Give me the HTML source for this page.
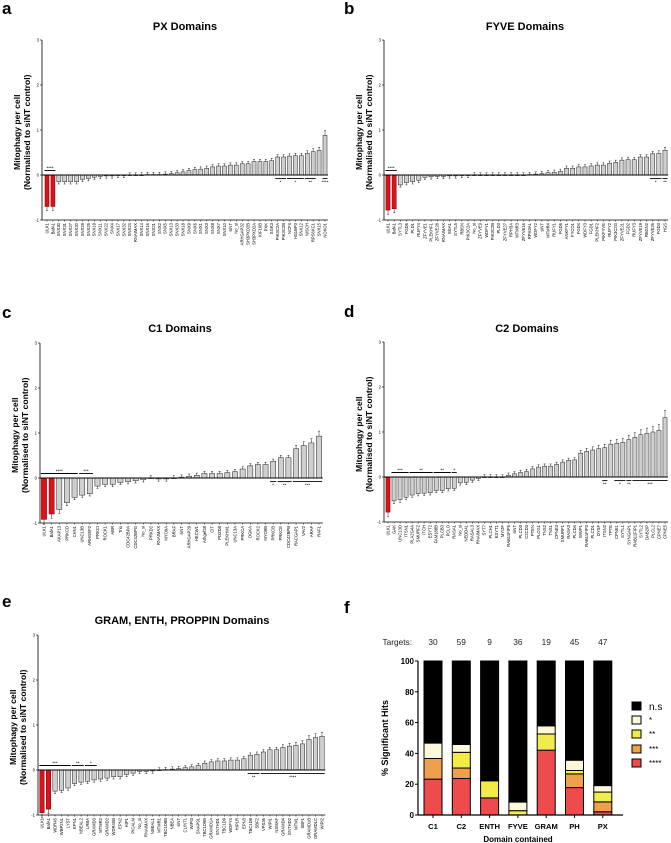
<!DOCTYPE html>
<html><head><meta charset="utf-8">
<style>
html,body{margin:0;padding:0;background:#fff;}
svg{display:block;font-family:"Liberation Sans",Arial,sans-serif;}
</style></head>
<body>
<svg id="fig" width="671" height="843" viewBox="0 0 671 843"></svg>
<script>
// ---------- Panel a (PX) ----------
const pxLabels = ["ULK1","BafA1","SNX30","SNX31","SNX27","SNX20","SNX29","SNX25","SNX19","SNX11","SNX22","SNX4","SNX17","SNX32","SNX24","RNAIMAX","SNX14","SNX16","SNX21","SNX2","SNX5","SNX13","SNX33","SNX18","SNX9","SNX6","SNX1","SNX3","SNX8","SNX7","SNX10","siNT","No_si","ARHGAP32","SH3PXD2B","SH3PXD2A","KIF16B","PXK","SGK3","PIK3C2A","PIK3C2B","NCF4","HS1BP3","SNX12","NISCH","RPS6KC1","SNX15","NOXO1"];
const pxValues = [-0.7,-0.7,-0.15,-0.15,-0.15,-0.15,-0.1,-0.08,-0.05,-0.03,-0.02,-0.02,-0.01,-0.01,0,0,0,0.01,0.01,0.01,0.02,0.03,0.05,0.07,0.1,0.12,0.13,0.15,0.18,0.2,0.2,0.22,0.22,0.25,0.25,0.3,0.3,0.3,0.32,0.4,0.4,0.42,0.43,0.43,0.48,0.52,0.55,0.88];
const pxSig = [[0,1,"****",1],[39,40,"*",-1],[41,43,"*",-1],[44,45,"**",-1],[47,47,"****",-1]];
// ---------- Panel b (FYVE) ----------
const fyveLabels = ["ULK1","BafA1","SYTL3","FGD6","PLD1","RUFY4","ZFYVE1","PLEKHF1","ZFYVE28","RNAIMAX","EEA1","SYTL5","RBSN","PIK3C2A","No_si","ZFYVE9","WDFY1","PIK3C2B","PLD3","ZFYVE27","RPH3A","MTMR3","ZFYVE16","RPH3AL","WDFY2","siNT","MTMR4","RUFY1","FGD5","ANKFY1","FYCO1","FGD4","WDFY3","FGD1","PLEKHF2","PIKFYVE","RUFY2","PIK3C2G","ZFYVE21","FGD2","RUFY3","ZFYVE19","RBSN2","ZFYVE26","FGD3","HGS"];
const fyveValues = [-0.78,-0.75,-0.22,-0.17,-0.15,-0.12,-0.05,-0.04,-0.03,-0.03,-0.02,-0.02,-0.01,-0.01,0,0,0,0,0,0,0,0,0,0.01,0.02,0.03,0.05,0.06,0.08,0.15,0.15,0.18,0.18,0.2,0.22,0.22,0.26,0.28,0.33,0.34,0.34,0.4,0.4,0.47,0.48,0.55];
const fyveSig = [[0,1,"****",1],[43,44,"*",-1],[45,45,"**",-1]];
// ---------- Panel c (C1) ----------
const c1Labels = ["ULK1","BafA1","AKAP13","PRKCD","CHN1","UNC13B","ARHGEF2","PRKCI","ROCK1","ABR","Trio","CDC42BPA","CDC42BPG","No_si","PRKD2","RNAIMAX","MYO9A","BRAF","siNT","ARHGAP29","HECW1","Arhgef28","CIT","PDZD8","PLEKHM1","UNC13A","PRKCA","DGKA","ROCK2","MYO9B","PRKCB","PRKCE","CDC42BPB","RACGAP1","VAV2","ARAF","RAF1"];
const c1Values = [-0.92,-0.8,-0.7,-0.55,-0.43,-0.38,-0.35,-0.18,-0.14,-0.14,-0.1,-0.08,-0.06,-0.04,0,-0.02,-0.02,0,0.02,0.04,0.06,0.1,0.1,0.1,0.12,0.14,0.2,0.27,0.3,0.3,0.37,0.45,0.45,0.65,0.72,0.78,0.93];
const c1Sig = [[0,4,"****",1],[5,6,"***",1],[30,30,"*",-1],[31,32,"**",-1],[33,36,"***",-1]];
// ---------- Panel d (C2) ----------
const c2Labels = ["ULK1","GAK","UNC13D","ITSN1","PLA2G4A","SMURF2","ITCH","ESYT2","FAM188B","PLCB3","PCLO","RASA1","No_si","NEDD4L","RASAL3","RNAIMAX","SYT7","PLCH1","ESYT1","MYOF","RAB11FIP5","siNT","PLCD3","C2CD3","PTEN","PLCG1","TNS2","TNS1","CPNE3","SMURF1","RASA3","PLCD4","WWP1","RAB11FIP3","PLCD1","DYSF","ITSN2","TPTE","CPNE1","SYTL1","SYNGAP1","RAB11FIP1","SYTL2","DAB2IP","PLCL2","CPNE7","CPNE5"];
const c2Values = [-0.78,-0.53,-0.5,-0.45,-0.4,-0.37,-0.36,-0.35,-0.3,-0.3,-0.26,-0.25,-0.13,-0.12,-0.07,-0.03,0,0,0,0,0.04,0.07,0.1,0.12,0.18,0.22,0.24,0.24,0.28,0.33,0.37,0.38,0.53,0.57,0.6,0.63,0.65,0.73,0.75,0.77,0.83,0.88,0.94,0.97,1.0,1.04,1.32];
const c2Sig = [[1,3,"***",1],[4,7,"**",1],[8,10,"**",1],[11,11,"*",1],[36,36,"**",-1],[38,39,"*",-1],[40,40,"**",-1],[41,46,"***",-1]];
// ---------- Panel e (GRAM/ENTH/PROPPIN) ----------
const gramLabels = ["ULK1","BafA1","WDR45","WBP2NL","LYST","EPN1","NBEAL2","LRBA","GRAMD3","MTMR2","GRAMD2","WDR45B","EPN2","HIP1","PICALM","No_si","RNAIMAX","NBEAL1","MTMR1","TBC1D8B","NBEA","siNT","CLINT1","WIPI3","SNAP91","TBC1D9B","GRAMD1A","ENTHD1","TBC1D9","WDFY4","HIP1R","EPN3","TBC1D8","SBF2","VPS36","WIPI1","NSMAF","GRAMD4","ENTHD2","MTM1","SBF1","GRAMD1B","GRAMD1C","WIPI2"];
const gramValues = [-0.95,-0.87,-0.47,-0.45,-0.4,-0.3,-0.27,-0.25,-0.22,-0.2,-0.18,-0.15,-0.15,-0.1,-0.07,-0.03,-0.03,-0.02,0,0.01,0.02,0.03,0.05,0.07,0.1,0.15,0.18,0.2,0.2,0.22,0.22,0.25,0.33,0.35,0.4,0.45,0.45,0.5,0.53,0.55,0.58,0.68,0.72,0.75];
const gramSig = [[0,4,"***",1],[5,6,"**",1],[7,8,"*",1],[32,33,"**",-1],[34,43,"****",-1]];
const yTicks = [3,2,1,0,-1];
// ---------- Panel f ----------
const fCategories = ["C1","C2","ENTH","FYVE","GRAM","PH","PX"];
const fTargets = [30,59,9,36,19,45,47];
const fStar4 = [23.3,23.7,11.1,0,42.1,17.8,2.1];
const fStar3 = [13.4,6.8,0,0,0,8.9,6.4];
const fStar2 = [0,10.2,11.1,2.8,10.5,2.2,6.4];
const fStar1 = [10.0,5.1,0,5.6,5.3,6.7,4.2];
const fTicks = [0,20,40,60,80,100];

const NS="http://www.w3.org/2000/svg";
const svg=document.getElementById('fig');
function mk(tag,attrs,parent,text){const e=document.createElementNS(NS,tag);for(const k in attrs)e.setAttribute(k,attrs[k]);if(text!==undefined)e.textContent=text;(parent||svg).appendChild(e);return e;}

function panel(p){
  const g=mk('g',{});
  
  
  const yS=v=>p.y0-v*45;
  const n=p.values.length;
  const step=(p.xEnd-p.xStart)/(n-1);
  const xS=i=>p.xStart+i*step;
  const bw=step*0.68;
  // letter and title
  const l=mk('text',{x:p.letterX,y:p.letterY,'font-size':17,'font-weight':'bold'},g,p.letter);
  
  
  const t=mk('text',{x:p.titleX,y:p.titleY,'font-size':11,'font-weight':'bold','text-anchor':'middle'},g,p.title);
  
  
  // y axis title
  const yt=mk('text',{transform:`translate(${p.ax-22},${yS(0.95)}) rotate(-90)`,'font-size':8.6,'font-weight':'bold','text-anchor':'middle'},g);
  
  
  mk('tspan',{x:0,dy:0},yt,'Mitophagy per cell');
  mk('tspan',{x:0,dy:10},yt,'(Normalised to siNT control)');
  // y axis
  const ya=mk('line',{x1:p.ax,x2:p.ax,y1:yS(3),y2:yS(-1),stroke:'#000','stroke-width':0.8},g);
  
  
  yTicks.forEach(v=>{
    mk('line',{x1:p.ax-2,x2:p.ax,y1:yS(v),y2:yS(v),stroke:'#000','stroke-width':0.6},g);
    const tl=mk('text',{x:p.ax-3,y:yS(v)+1.5,'font-size':4.2,'text-anchor':'end'},g,String(v));
    
    
  });
  // x axis at -1
  const xa=mk('line',{x1:p.ax,x2:p.xEnd+step/2,y1:yS(-1),y2:yS(-1),stroke:'#000','stroke-width':0.8},g);
  
  
  // bars
  p.values.forEach((v,i)=>{
    const x=xS(i);
    const red=i<p.red;
    const r=mk('rect',{x:x-bw/2,y:Math.min(yS(v),yS(0)),width:bw,height:Math.max(0.6,Math.abs(yS(v)-yS(0))),fill:red?'#d9121b':'#cfcfcf',stroke:red?'#7a0000':'#222','stroke-width':0.5},g);
    
    
    // error bar
    const e=Math.max(0.05,Math.abs(v)*0.12);
    const ey=v>=0?yS(v+e):yS(v-e);
    mk('line',{x1:x,x2:x,y1:yS(v),y2:ey,stroke:'#222','stroke-width':0.5},g);
    mk('line',{x1:x-1,x2:x+1,y1:ey,y2:ey,stroke:'#222','stroke-width':0.5},g);
    // tick + label
    mk('line',{x1:x,x2:x,y1:yS(-1),y2:yS(-1)+1.5,stroke:'#000','stroke-width':0.5},g);
    const lb=mk('text',{transform:`translate(${x+1.4},${yS(-1)+3}) rotate(-90)`,'font-size':4.2,'text-anchor':'end'},g,p.labels[i]);
    
    
  });
  // zero line
  const z=mk('line',{x1:p.ax,x2:p.xEnd+step/2,y1:yS(0),y2:yS(0),stroke:'#000','stroke-width':1},g);
  
  
  // significance
  p.sig.forEach(s=>{
    const x1=xS(s[0])-bw/2-0.5,x2=xS(s[1])+bw/2+0.5;
    const yy=s[3]>0?yS(0.1):yS(-0.08);
    const sl=mk('line',{x1:x1,x2:x2,y1:yy,y2:yy,stroke:'#000','stroke-width':0.9},g);
    
    
    mk('text',{x:(x1+x2)/2,y:s[3]>0?yy-1:yy+5,'font-size':4.5,'text-anchor':'middle'},g,s[2]);
  });
}

panel({name:'panel-a-px',letter:'a',letterX:2,letterY:14,title:'PX Domains',titleX:185,titleY:30,ax:42,y0:175,xStart:47,xEnd:325,values:pxValues,labels:pxLabels,sig:pxSig,red:2});
panel({name:'panel-b-fyve',letter:'b',letterX:344,letterY:14,title:'FYVE Domains',titleX:525,titleY:30,ax:384,y0:175,xStart:388,xEnd:665,values:fyveValues,labels:fyveLabels,sig:fyveSig,red:2});
panel({name:'panel-c-c1',letter:'c',letterX:2,letterY:318,title:'C1 Domains',titleX:180,titleY:332,ax:40,y0:478,xStart:44,xEnd:319,values:c1Values,labels:c1Labels,sig:c1Sig,red:2});
panel({name:'panel-d-c2',letter:'d',letterX:344,letterY:317,title:'C2 Domains',titleX:527,titleY:332,ax:384,y0:477,xStart:388,xEnd:665,values:c2Values,labels:c2Labels,sig:c2Sig,red:1});
panel({name:'panel-e-gram',letter:'e',letterX:2,letterY:607,title:'GRAM, ENTH, PROPPIN Domains',titleX:182,titleY:624,ax:38,y0:770,xStart:42,xEnd:322,values:gramValues,labels:gramLabels,sig:gramSig,red:2});

// ---------- Panel f draw ----------
(function(){
  const g=mk('g',{});
  
  
  const ax=418,y0=815,yTop=661,cx0=433,dx=28.3,bw=18;
  const yS=v=>y0-(v/100)*(y0-yTop);
  const xS=i=>cx0+i*dx;
  const l=mk('text',{x:344,y:613,'font-size':17,'font-weight':'bold'},g,'f');
  
  
  const tt=mk('text',{x:412,y:645,'font-size':8.3,'text-anchor':'end',fill:'#222'},g,'Targets:');
  
  
  fTicks.forEach(v=>{
    mk('line',{x1:ax-3,x2:ax,y1:yS(v),y2:yS(v),stroke:'#000','stroke-width':1},g);
    const tl=mk('text',{x:ax-4,y:yS(v)+3,'font-size':8,'font-weight':'bold','text-anchor':'end'},g,String(v));
    
    
  });
  const series=[[fStar4,'#ee4c4c','****'],[fStar3,'#efa04e','***'],[fStar2,'#f1ec4a','**'],[fStar1,'#fdf9d8','*']];
  fCategories.forEach((c,i)=>{
    const x=xS(i);
    let acc=0;
    series.forEach(s=>{
      const v=s[0][i];
      if(v>0){
        const r=mk('rect',{x:x-bw/2,y:yS(acc+v),width:bw,height:yS(acc)-yS(acc+v),fill:s[1],stroke:'#000','stroke-width':1},g);
        
        
      }
      acc+=v;
    });
    const r=mk('rect',{x:x-bw/2,y:yS(100),width:bw,height:yS(acc)-yS(100),fill:'#000',stroke:'#000','stroke-width':1},g);
    
    
    const tn=mk('text',{x:x,y:645,'font-size':8.3,'text-anchor':'middle',fill:'#222'},g,String(fTargets[i]));
    
    
    mk('line',{x1:x,x2:x,y1:y0,y2:y0+3,stroke:'#000','stroke-width':1},g);
    const cl=mk('text',{x:x,y:829,'font-size':7.6,'font-weight':'bold','text-anchor':'middle'},g,c);
    
    
  });
  const ya=mk('line',{x1:ax,x2:ax,y1:yS(100),y2:y0,stroke:'#000','stroke-width':1.2},g);
  
  
  const xa=mk('line',{x1:ax,x2:623,y1:y0,y2:y0,stroke:'#000','stroke-width':1.2},g);
  
  
  const yt=mk('text',{transform:'translate(388,738) rotate(-90)','font-size':9,'font-weight':'bold','text-anchor':'middle'},g,'% Significant Hits');
  
  
  const xt=mk('text',{x:518,y:842,'font-size':8,'font-weight':'bold','text-anchor':'middle'},g,'Domain contained');
  
  
  const legend=[['n.s','#000',706,10],['*','#fdf9d8',720,8],['**','#f1ec4a',734,8],['***','#efa04e',749,8],['****','#ee4c4c',763,8]];
  legend.forEach(e=>{
    const sw=mk('rect',{x:632,y:e[2]-4,width:9,height:8,fill:e[1],stroke:'#000','stroke-width':1},g);
    
    
    const lt=mk('text',{x:649,y:e[2]+(e[0]==='n.s'?4:3),'font-size':e[3]},g,e[0]);
    
    
  });
})();
</script>
</body></html>
